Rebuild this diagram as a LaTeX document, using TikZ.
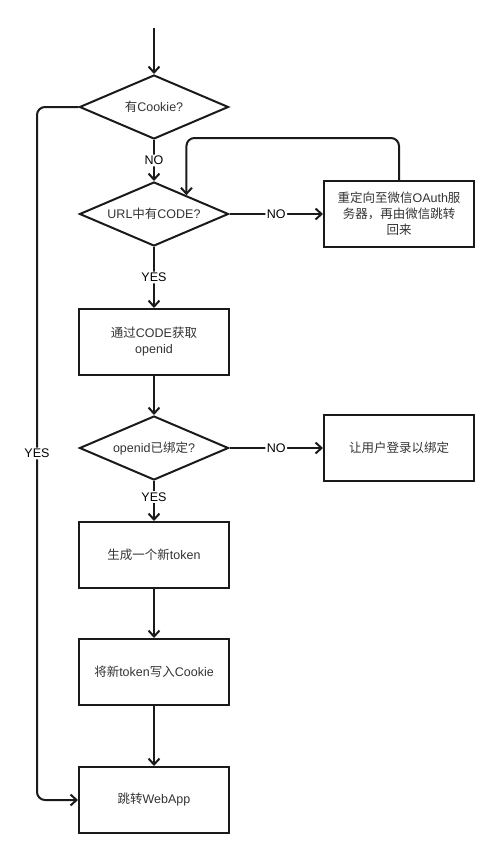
\documentclass[tikz,border=0pt]{standalone}
\usepackage{fontspec}
\setmainfont{Liberation Sans}
\newfontfamily\cjk{Noto Sans CJK SC}
\usetikzlibrary{shapes.geometric,arrows.meta,calc}
\definecolor{ink}{HTML}{1A1A1A}
\definecolor{txt}{HTML}{333333}
\begin{document}
\begin{tikzpicture}[x=1pt,y=-1pt,
  box/.style={draw=ink, line width=2pt, minimum width=150pt, minimum height=66pt, inner sep=0pt, align=center, font=\fontsize{12.5}{16}\selectfont, text=txt},
  dec/.style={diamond, draw=ink, line width=2pt, minimum width=149pt, minimum height=64pt, aspect=2.33, inner sep=0pt, align=center, font=\fontsize{12.5}{16}\selectfont, text=txt},
  conn/.style={draw=ink, line width=2pt, rounded corners=8pt, -{Straight Barb[length=6pt,width=11pt,line width=2pt]}},
  lbl/.style={fill=white, inner sep=1.5pt, text=black, font=\fontsize{12.5}{15}\selectfont}]
\useasboundingbox (0,0) rectangle (500,854);
\coordinate (start) at (154,28);
\node[dec] (d1) at (154,107) {{\cjk 有}Cookie?};
\node[dec] (d2) at (154,214) {URL{\cjk 中有}CODE?};
\node[box] (b2) at (399,214) {{\cjk 重定向至微信}OAuth{\cjk 服}\\{\cjk 务器，再由微信跳转}\\{\cjk 回来}};
\node[box] (b1) at (154,342) {{\cjk 通过}CODE{\cjk 获取}\\openid};
\node[dec] (d3) at (154,448) {openid{\cjk 已绑定}?};
\node[box] (b3) at (399,448) {{\cjk 让用户登录以绑定}};
\node[box] (b4) at (154,555) {{\cjk 生成一个新}token};
\node[box] (b5) at (154,672) {{\cjk 将新}token{\cjk 写入}Cookie};
\node[box] (b6) at (154,800) {{\cjk 跳转}WebApp};

\draw[conn] (start) -- (d1.north);
\coordinate (lft) at (37,107);
\draw[conn] (d1.west) -- (lft) -- node[lbl]{YES} (lft |- b6.west) -- (b6.west);
\draw[conn] (d1.south) -- node[lbl]{NO} (d2.north);
\draw[conn] (d2.east) -- node[lbl]{NO} (b2.west);
\coordinate (tgt) at ($(d2.north)!0.43!(d2.east)$);
\coordinate (lp) at (tgt |- 0,138);
\draw[conn] (b2.north) |- (lp) -- (tgt);
\draw[conn] (d2.south) -- node[lbl]{YES} (b1.north);
\draw[conn] (b1.south) -- (d3.north);
\draw[conn] (d3.east) -- node[lbl]{NO} (b3.west);
\draw[conn] (d3.south) -- node[lbl,pos=0.4]{YES} (b4.north);
\draw[conn] (b4.south) -- (b5.north);
\draw[conn] (b5.south) -- (b6.north);
\end{tikzpicture}
\end{document}
